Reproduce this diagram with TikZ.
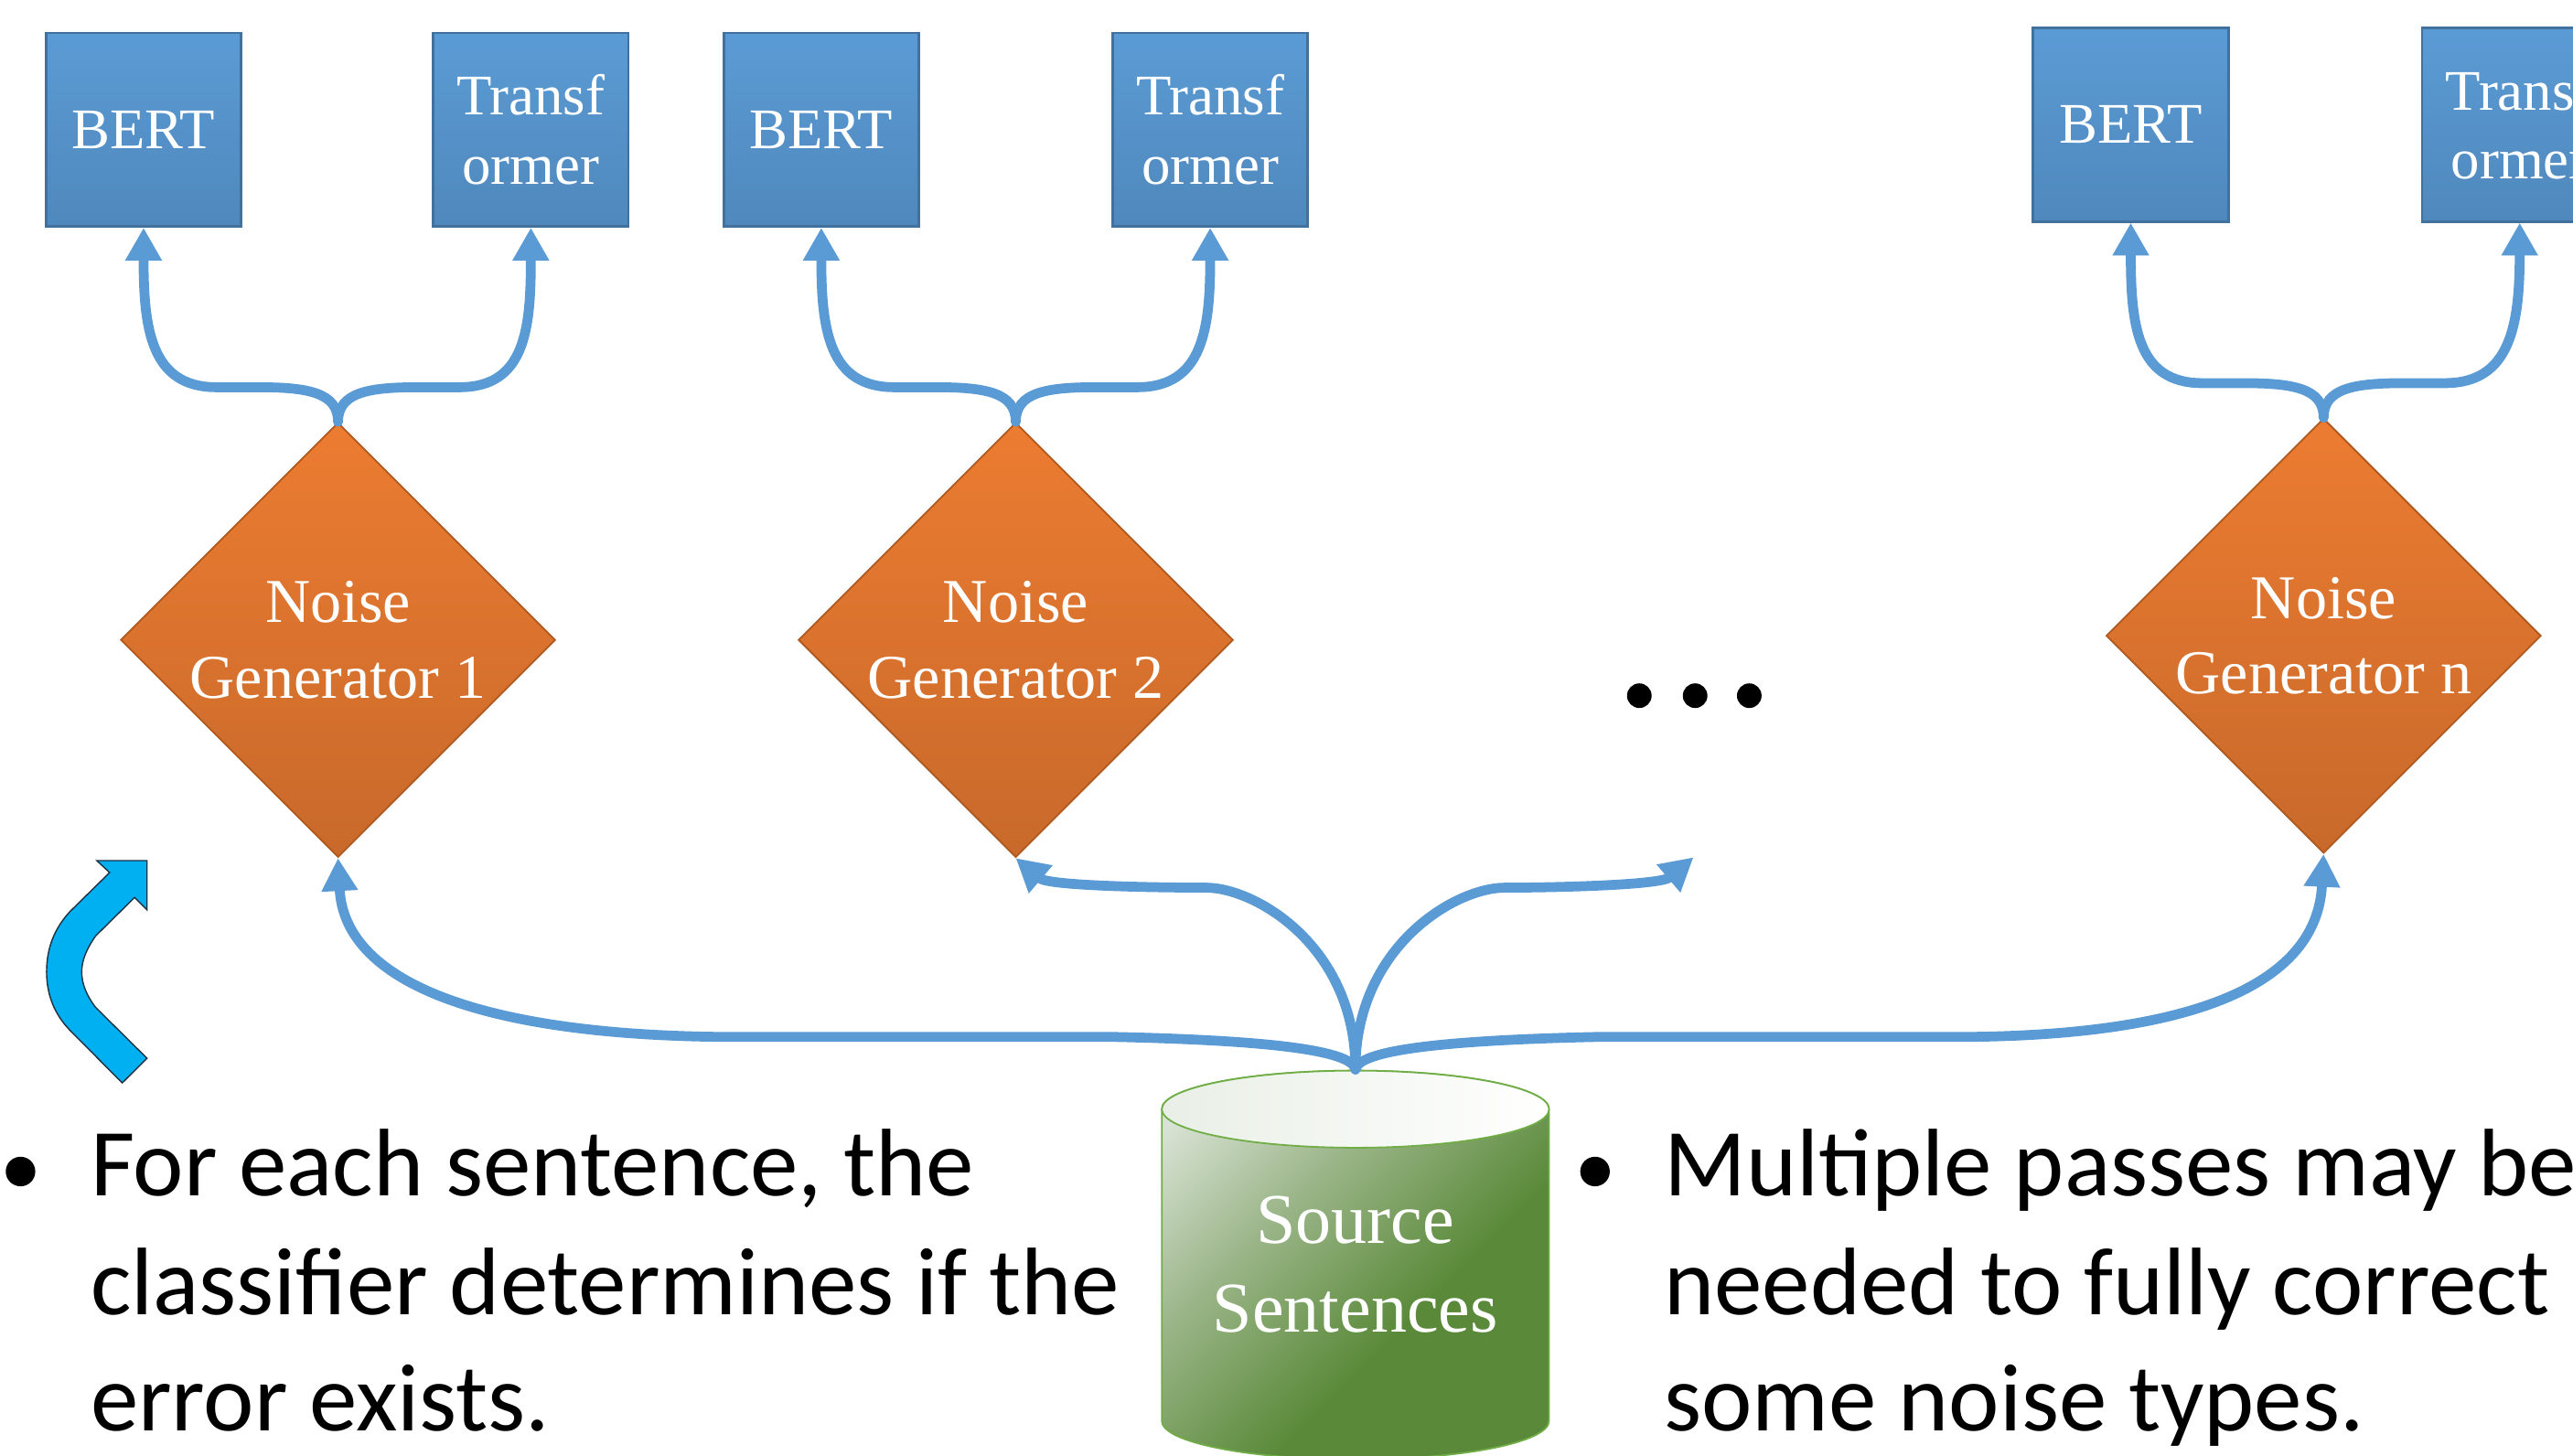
\documentclass[tikz,border=0pt]{standalone}
\usepackage{fontspec}
\setmainfont{Liberation Serif}
\newfontfamily\bodyfont{Carlito}
\usetikzlibrary{arrows.meta,shapes.geometric}

\definecolor{flowblue}{HTML}{5B9BD5}
\definecolor{boxtop}{HTML}{5B9BD5}
\definecolor{boxbot}{HTML}{4F88BC}
\definecolor{boxedge}{HTML}{41719C}
\definecolor{gentop}{HTML}{EC7C31}
\definecolor{genbot}{HTML}{C8692B}
\definecolor{genedge}{HTML}{B0591F}
\definecolor{cylgreen}{HTML}{5A8A39}
\definecolor{cylmid}{HTML}{9CB68A}
\definecolor{cyllight}{HTML}{D9E3D5}
\definecolor{cyledge}{HTML}{70AD47}
\definecolor{cyltop}{HTML}{E9EFE6}
\definecolor{bendcyan}{HTML}{00B0F0}
\definecolor{bendedge}{HTML}{1F3244}

% diagonal light-to-green fill of the cylinder body
\pgfdeclareverticalshading{cylbody}{100bp}{color(0bp)=(cylgreen); color(40bp)=(cylgreen); color(62bp)=(cylmid); color(80bp)=(cyllight); color(100bp)=(cyllight)}

\begin{document}
\begin{tikzpicture}[x=1pt,y=-1pt,
  modelbox/.style={rectangle, minimum width=119pt, minimum height=118pt, inner sep=0pt,
    draw=boxedge, line width=1.5pt, top color=boxtop, bottom color=boxbot,
    text=white, align=center, font=\fontsize{35}{42}\selectfont},
  gen/.style={diamond, aspect=1, minimum width=265pt, minimum height=265pt, inner sep=0pt,
    draw=genedge, line width=1pt, top color=gentop, bottom color=genbot},
  gentext/.style={text=white, align=center, inner sep=0pt, font=\fontsize{38}{46}\selectfont},
  srctext/.style={minimum width=236pt, minimum height=237pt, inner sep=0pt,
    text=white, align=center, font=\fontsize{43.5}{54}\selectfont},
  flow/.style={draw=flowblue, line width=6pt, line cap=round,
    -{Triangle[length=20pt,width=21pt]}},
  dot/.style={circle, fill=black, inner sep=0pt, minimum size=15pt},
  bullettext/.style={anchor=base west, inner sep=0pt, font=\bodyfont\fontsize{58.5}{71.5}\selectfont}
]
\useasboundingbox (0,0) rectangle (1568,887);
\clip (0,0) rectangle (1568,887);

% model boxes
\node[modelbox] (b1) at (87.5,79) {BERT};
\node[modelbox] (t1) at (323.5,79) {Transf\\ormer};
\node[modelbox] (b2) at (500.5,79) {BERT};
\node[modelbox] (t2) at (737.5,79) {Transf\\ormer};
\node[modelbox] (bn) at (1298.5,76) {BERT};
\node[modelbox] (tn) at (1535.5,76) {Transf\\ormer};

% noise generators
\node[gen] (g1) at (206,390) {};
\node[gentext] (g1t) at (g1) {Noise\\Generator 1};
\node[gen] (g2) at (619,390) {};
\node[gentext] (g2t) at (g2) {Noise\\Generator 2};
\node[gen] (gn) at (1416,387.5) {};
\node[gentext] (gnt) at (gn) {Noise\\Generator n};

% ellipsis between generators
\node[dot] (d1) at (999,424) {};
\node[dot] (d2) at (1033,424) {};
\node[dot] (d3) at (1066,424) {};
\coordinate (more) at (1032,522.5);

% source sentences cylinder
\path[shade, shading=cylbody, shading angle=45, draw=cyledge, line width=1pt]
  (708,676) -- (708,866) arc[start angle=180, end angle=360, x radius=118pt, y radius=23.5pt]
  -- (944,676) arc[start angle=0, end angle=180, x radius=118pt, y radius=23.5pt] -- cycle;
\draw[cyledge, line width=1pt, left color=cyltop, right color=white]
  (826,676) ellipse [x radius=118pt, y radius=23.5pt];
\node[srctext] (src) at (826,770.5) {Source\\Sentences};

% forks from each generator to its two models
\foreach \g/\b/\t in {g1/b1/t1, g2/b2/t2, gn/bn/tn} {
  \draw[flow] (\g.north) .. controls +(0,-18) and +(30,0) .. ++(-49,-21) -- ++(-25,0)
    .. controls +(-40,0) and +(0,62) .. (\b.south);
  \draw[flow] (\g.north) .. controls +(0,-18) and +(-30,0) .. ++(49,-21) -- ++(25,0)
    .. controls +(40,0) and +(0,62) .. (\t.south);
}

% source to generators
\draw[flow] (src.north) .. controls +(-2,-12) and +(90,2) .. (680,632) -- (450,632)
  .. controls +(-150,0) and +(4,78) .. (g1.south);
\draw[flow] (src.north) .. controls +(2,-12) and +(-90,2) .. (972,632) -- (1190,632)
  .. controls +(150,0) and +(-4,78) .. (gn.south);
\draw[flow] (src.north) .. controls +(0,-75) and +(30,0) .. (735,541)
  .. controls +(-30,0) and +(20,17) .. (g2.south);
\draw[flow] (src.north) .. controls +(0,-75) and +(-30,0) .. (917,541)
  .. controls +(30,0) and +(-20,17) .. (more);

% curved block arrow at the left
\path[fill=bendcyan, draw=bendedge, line width=0.8pt]
  (74.5,660) -- (42.7,628) .. controls (33,618) and (28.4,606) .. (28.4,592.3)
  .. controls (28.4,578) and (33,566) .. (42.7,555.5) -- (66.8,531.8) -- (59,524.5)
  -- (89.6,524.5) -- (89.6,554.6) -- (82,547) -- (58.3,570.4)
  .. controls (53,578) and (49.8,585) .. (49.8,592.3)
  .. controls (49.8,600) and (53,607) .. (58.3,614) -- (89.6,645) -- cycle;

% bullet notes
\node[dot, minimum size=18pt] (bl) at (12.5,714) {};
\node[bullettext] (l1) at (55,729) {For each sentence, the};
\node[bullettext] (l2) at (55,801) {classifier determines if the};
\node[bullettext] (l3) at (55,872) {error exists.};
\node[dot, minimum size=18pt] (br) at (972,714) {};
\node[bullettext] (r1) at (1014,729) {Multiple passes may be};
\node[bullettext] (r2) at (1014,801) {needed to fully correct};
\node[bullettext] (r3) at (1014,872) {some noise types.};
\end{tikzpicture}
\end{document}
